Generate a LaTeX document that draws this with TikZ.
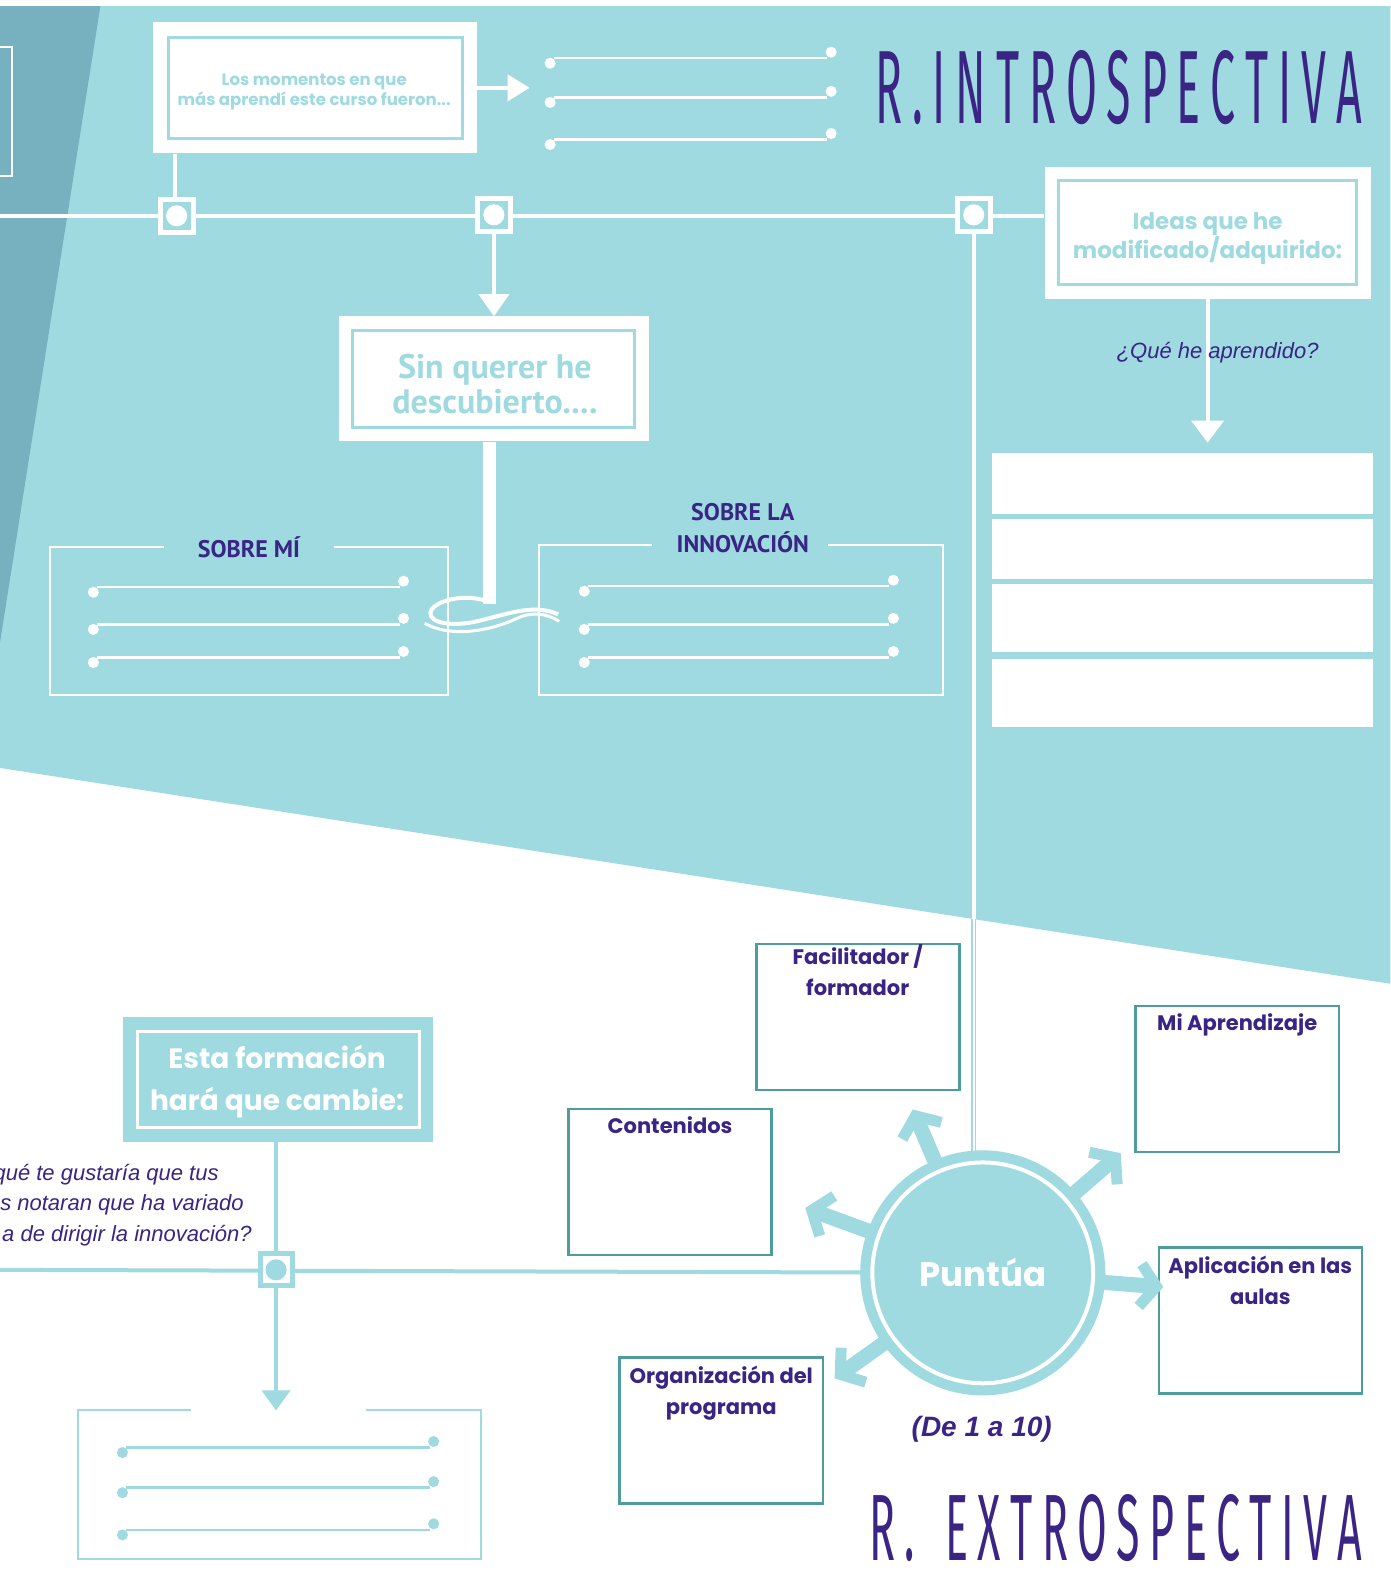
\documentclass[tikz,border=0pt]{standalone}
\usepackage{fontspec}
\setmainfont{Liberation Sans}
\newfontfamily\pop{Poppins}
\newfontfamily\pts{PT Sans}
\newfontfamily\thinfont{Fira Sans}
\usetikzlibrary{arrows.meta,calc}
\definecolor{tealbg}{HTML}{9EDAE0}
\definecolor{tealdark}{HTML}{77B0BE}
\definecolor{purp}{HTML}{3A2484}
\definecolor{boxline}{HTML}{4E9C9C}
\newcommand{\dline}[4]{%
  \draw[#1, line width=2.5] (#2+4,#4) -- (#3-4,#4);
  \fill[#1] (#2,#4+5) circle (5.5);
  \fill[#1] (#3,#4-6) circle (5.5);
}
\newcommand{\chev}[2]{%
  \draw[tealbg, line width=15] (#1) -- ($(#2)!6pt!(#1)$);
  \draw[tealbg, line width=11, line join=miter] ($(#2)!30pt!45:(#1)$) -- ($(#2)!5pt!(#1)$) -- ($(#2)!30pt!-45:(#1)$);
}
\newcommand{\lgap}{\hspace{0.22em}}
\begin{document}
\begin{tikzpicture}[x=1.0036pt,y=-1.0036pt,
  whitebox/.style={fill=white, draw=none, inner sep=0},
  innerT/.style={draw=tealbg, line width=3, inner sep=0},
  ttext/.style={text=tealbg, align=center, inner sep=0},
  rbox/.style={fill=white, draw=boxline, line width=2.5, inner sep=0, minimum width=203pt, minimum height=146pt},
  rlab/.style={text=purp, font=\pop\bfseries\fontsize{21}{31}\selectfont, align=center, anchor=north, inner sep=0},
  junc/.style={draw=white, line width=5, fill=tealbg, minimum size=33pt, inner sep=0},
  ital/.style={text=purp, font=\itshape\fontsize{22}{26}\selectfont, inner sep=0},
  sobre/.style={text=purp, font=\pts\bfseries\fontsize{24}{32}\selectfont, inner sep=0, align=center},
]
\useasboundingbox (0,0) rectangle (1385,1568);
\fill[white] (0,0) rectangle (1385,1568);
% backgrounds
\fill[tealbg] (0,6) -- (1385,6) -- (1385,980) -- (0,765) -- cycle;
\fill[tealdark] (0,6) -- (100,6) -- (0,640) -- cycle;
\draw[white, line width=2] (-5,47) rectangle (12,175);

% ---------- top ----------
\node[whitebox, minimum width=324pt, minimum height=131pt] (momO) at (314,87.5) {};
\node[innerT, minimum width=294pt, minimum height=101pt] (mom) at (314,87.5) {};
\node[ttext, font=\pop\bfseries\fontsize{16.5}{20}\selectfont] (momT) at (313,92) {Los momentos en que\\más aprendí este curso fueron...};

\node[whitebox, minimum width=326pt, minimum height=132pt] (ideasO) at (1203,232) {};
\node[innerT, minimum width=298pt, minimum height=104pt] (ideas) at (1203,232) {};
\node[ttext, font=\pop\bfseries\fontsize{23}{27}\selectfont] (ideasT) at (1203,238) {Ideas que he\\modificado/adquirido:};

\node[whitebox, minimum width=310pt, minimum height=125pt] (sinO) at (492,377.5) {};
\node[innerT, minimum width=282pt, minimum height=97pt] (sin) at (492,377.5) {};
\node[ttext, font=\pts\bfseries\fontsize{34}{35}\selectfont] (sinT) at (493,383) {Sin querer he\\descubierto....};

% main horizontal line
\draw[white, line width=4] (0,215) -- (ideasO.west |- 0,215);
\node[junc] (j1) at (176,215) {};
\node[junc] (j2) at (492,214) {};
\node[junc] (j3) at (970,214) {};
\foreach \j in {j1,j2,j3} \fill[white] (\j.center) circle (10.5);

\draw[white, line width=4] (momO.south -| 174,0) -- (j1.north -| 174,0);
\draw[white, line width=4, -{Triangle[length=22pt,width=26pt]}] (momO.east) -- ++(52,0);
\draw[white, line width=4, -{Triangle[length=22pt,width=30pt]}] (j2.south) -- (sinO.north);

% three lines at top
\dline{white}{548}{828}{58}
\dline{white}{548}{828}{97}
\dline{white}{548}{828}{139}

% title
\node[anchor=south west, inner sep=0, text=purp] (t1) at (872,124) {\resizebox{486pt}{73pt}{\thinfont R\lgap.\lgap I\lgap N\lgap T\lgap R\lgap O\lgap S\lgap P\lgap E\lgap C\lgap T\lgap I\lgap V\lgap A}};

% sin querer stem and wave
\draw[white, line width=13] (sinO.south -| 488,0) -- (488,602);
\draw[white, line width=4] (488,600) .. controls (470,592) and (440,595) .. (430,607) .. controls (424,617) and (440,625) .. (470,620) .. controls (500,614) and (530,600) .. (556,612);
\draw[white, line width=3] (423,621) .. controls (450,636) and (490,628) .. (515,616) .. controls (530,609) and (545,611) .. (557,619);

% sobre mi
\draw[white, line width=2] (163,545) -- (50,545) -- (50,692) -- (446,692) -- (446,545) -- (333,545);
\node[sobre] (smi) at (248,545) {SOBRE MÍ};
\dline{white}{93}{402}{585}
\dline{white}{93}{402}{622}
\dline{white}{93}{402}{655}

% sobre la innovacion
\draw[white, line width=2] (650,543) -- (537,543) -- (537,692) -- (939,692) -- (939,543) -- (825,543);
\node[sobre] (sinn) at (740,526) {SOBRE LA\\INNOVACIÓN};
\dline{white}{582}{890}{584}
\dline{white}{582}{890}{622}
\dline{white}{582}{890}{655}

% right white stack
\node[whitebox, minimum width=380pt, minimum height=61pt] (r1) at (1178,481.5) {};
\node[whitebox, minimum width=380pt, minimum height=60pt] (r2) at (1178,547) {};
\node[whitebox, minimum width=380pt, minimum height=68pt] (r3) at (1178,616) {};
\node[whitebox, minimum width=380pt, minimum height=68pt] (r4) at (1178,690) {};
\draw[white, line width=4, -{Triangle[length=22pt,width=32pt]}, shorten >=10pt] (ideasO.south) -- (ideasO.south |- r1.north);
\node[ital] (qa) at (1213,351) {¿Qué he aprendido?};

% vertical line to Puntua
\coordinate (pc) at (979,1268);
\coordinate (vb) at (970,915);
\draw[white, line width=4] (j3.south) -- (vb);
\draw[tealbg, line width=5] (vb) -- (970,1160);
\draw[white, line width=2] (vb) -- (970,1160);

% ---------- bottom ----------
\node[fill=tealbg, inner sep=0, minimum width=310pt, minimum height=125pt] (estaO) at (277,1075.5) {};
\node[draw=white, line width=3, inner sep=0, minimum width=282pt, minimum height=96pt] (esta) at (277,1075.5) {};
\node[text=white, align=center, inner sep=0, font=\pop\bfseries\fontsize{28}{42}\selectfont] (estaT) at (276,1077) {Esta formación\\hará que cambie:};

\node[ital, anchor=east] (q1) at (218,1170) {qué te gustaría que tus};
\node[ital, anchor=east] (q2) at (243,1200) {s notaran que ha variado};
\node[ital, anchor=east] (q3) at (251,1231) {a de dirigir la innovación?};

\draw[tealbg, line width=4] (0,1265) -- (pc);
\coordinate (bt) at (275,1405);
\draw[tealbg, line width=4, -{Triangle[length=20pt,width=28pt]}] (estaO.south -| bt) -- (bt);
\node[draw=tealbg, line width=5, fill=white, minimum size=32pt, inner sep=0] (j4) at (275,1265) {};
\fill[tealbg] (j4.center) circle (10.5);

\draw[tealbg, line width=2] (190,1405) -- (78,1405) -- (78,1553) -- (479,1553) -- (479,1405) -- (365,1405);
\dline{tealbg}{122}{432}{1442}
\dline{tealbg}{122}{432}{1482}
\dline{tealbg}{122}{432}{1524}

% boxes
\node[rbox] (fac) at (854.5,1013) {};
\node[rlab] at ($(fac.north)+(0,2)$) {Facilitador /\\formador};
\node[rbox] (apr) at (1232.5,1075) {};
\node[rlab] at ($(apr.north)+(0,9)$) {Mi Aprendizaje};
\node[rbox] (con) at (667.5,1177.5) {};
\node[rlab] at ($(con.north)+(0,9)$) {Contenidos};
\node[rbox] (apl) at (1255.5,1315.5) {};
\node[rlab] at ($(apl.north)+(0,9)$) {Aplicación en las\\aulas};
\node[rbox] (org) at (718.5,1425) {};
\node[rlab] at ($(org.north)+(0,10)$) {Organización del\\programa};

% arrows from Puntua
\coordinate (a1) at (910,1107);
\coordinate (a2) at (1115,1150);
\coordinate (a3) at (804,1204);
\coordinate (a4) at (1157,1282);
\coordinate (a5) at (833,1372);
\chev{pc}{a1}
\chev{pc}{a2}
\chev{pc}{a3}
\chev{pc}{a4}
\chev{pc}{a5}

\node[circle, fill=tealbg, minimum size=245pt, inner sep=0, text=white, font=\pop\bfseries\fontsize{34}{38}\selectfont] (punt) at (pc) {Puntúa};
\draw[white, line width=4] (pc) circle (110);

\node[text=purp, font=\bfseries\itshape\fontsize{28}{30}\selectfont, inner sep=0] (de) at (978,1424) {(De 1 a 10)};

\node[anchor=south west, inner sep=0, text=purp] (t2) at (866,1556) {\resizebox{492pt}{66pt}{\thinfont R\lgap.\hspace{0.7em}E\lgap X\lgap T\lgap R\lgap O\lgap S\lgap P\lgap E\lgap C\lgap T\lgap I\lgap V\lgap A}};
\end{tikzpicture}
\end{document}
